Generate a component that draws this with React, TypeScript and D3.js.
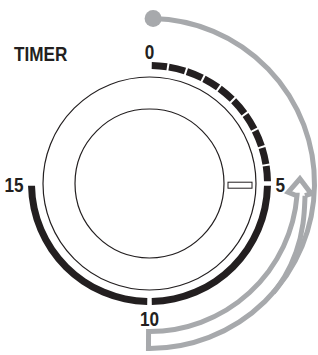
import * as d3 from 'd3';

const WIDTH = 318;
const HEIGHT = 355;

// Dial runs 0..20 minutes around the full turn, 0 at the top
const DIAL_MINUTES = [0, 20];
const TICK_MINUTES = [0, 5, 10, 15];
const TICK_LABELS = ['0', '5', '10', '15'];
// black scale band pieces, minutes
const BAND_STARTS = [0, 0.5, 1, 1.5, 2, 2.5, 3, 3.5, 4, 4.5, 5, 10];
const BAND_ENDS = [0.5, 1, 1.5, 2, 2.5, 3, 3.5, 4, 4.5, 5, 10, 15];
const TITLE = 'TIMER';
// grey turning guide (minutes): start dot, turn-around, arrow end, merge of the shaft
const GUIDE_START = 0.07;
const GUIDE_TURN = 10.02;
const GUIDE_ARROW_BASE = 5.2;
const GUIDE_ARROW_TIP = 4.9;
const GUIDE_SHAFT = [5.25, 5.8, 6.4, 6.95, 7.3];
const INDICATOR_MINUTE = 5;

const COLORS = {
  ink: '#231f20',
  guide: '#a7a9ac',
  paper: '#ffffff',
};

const cx = 149.5;
const cy = 183.5;
const R = {
  inner: 74.5,
  outer: 106.5,
  bandIn: 114.5,
  bandOut: 121.5,
  label: 126,
  guideOut: 165,
  guideIn: 148,
  shaftIn: 146,
  shaftOut: 156,
};

const angle = d3.scaleLinear().domain(DIAL_MINUTES).range([0, 2 * Math.PI]);
const polar = (m: number, r: number): [number, number] => [
  cx + r * Math.sin(angle(m)),
  cy - r * Math.cos(angle(m)),
];

const FONT = "'Liberation Sans', Arial, sans-serif";
const FONT_SIZE = 19.5;
const SQUEEZE = 0.88; // condensed lettering

export default function App() {
  const bandR = (R.bandIn + R.bandOut) / 2;
  const gapPx = (m: number) => (m % 5 === 0 ? 4.5 : 2);
  const arc = d3.arc<{ startAngle: number; endAngle: number }>()
    .innerRadius(R.bandIn)
    .outerRadius(R.bandOut);

  const bandPaths = BAND_STARTS.map((s, i) => {
    const e = BAND_ENDS[i];
    return arc({
      startAngle: angle(s) + gapPx(s) / 2 / bandR,
      endAngle: angle(e) - gapPx(e) / 2 / bandR,
    }) as string;
  });

  // grey guide: clockwise from the dot to past 10, then back to 5 with an arrow
  const p = d3.path();
  const toScreen = (m: number) => angle(m) - Math.PI / 2;
  const [dx, dy] = polar(GUIDE_START, R.guideOut);
  p.moveTo(dx, dy);
  p.arc(cx, cy, R.guideOut, toScreen(GUIDE_START), toScreen(GUIDE_TURN), false);
  const capIn = polar(GUIDE_TURN, R.guideIn);
  p.lineTo(capIn[0], capIn[1]);
  p.arc(cx, cy, R.guideIn, toScreen(GUIDE_TURN), toScreen(GUIDE_SHAFT[0]), true);
  const notchL = polar(GUIDE_SHAFT[0], R.shaftIn);
  const wingL = polar(GUIDE_ARROW_BASE, 139);
  const tip = polar(GUIDE_ARROW_TIP, 150.5);
  const wingR = polar(GUIDE_ARROW_BASE, 162);
  const notchR = polar(GUIDE_SHAFT[0], R.shaftOut);
  p.lineTo(notchL[0], notchL[1]);
  p.lineTo(wingL[0], wingL[1]);
  p.lineTo(tip[0], tip[1]);
  p.lineTo(wingR[0], wingR[1]);
  p.lineTo(notchR[0], notchR[1]);

  const shaftRadii = [R.shaftOut, 159.5, 163, R.guideOut, R.guideOut];
  const shaft = d3.lineRadial<number>()
    .angle((m) => angle(m))
    .radius((_, i) => shaftRadii[i])
    .curve(d3.curveBasis)(GUIDE_SHAFT) as string;

  const ind0 = polar(INDICATOR_MINUTE, 78.5);

  const label = (x: number, y: number, txt: string, anchor: string, key?: string | number) => (
    <text
      key={key}
      transform={`translate(${x},${y}) scale(${SQUEEZE},1)`}
      textAnchor={anchor}
      fontFamily={FONT}
      fontWeight={700}
      fontSize={FONT_SIZE}
      fill={COLORS.ink}
    >
      {txt}
    </text>
  );

  return (
    <svg
      width={WIDTH}
      height={HEIGHT}
      style={{ position: 'absolute', left: 0, top: 0, background: COLORS.paper }}
    >
      {label(14, 61, TITLE, 'start')}

      <circle cx={cx} cy={cy} r={R.outer} fill="none" stroke={COLORS.ink} strokeWidth={1.2} />
      <circle cx={cx} cy={cy} r={R.inner} fill="none" stroke={COLORS.ink} strokeWidth={1.2} />
      <rect
        x={ind0[0]}
        y={cy - 1.3}
        width={24}
        height={6}
        fill={COLORS.paper}
        stroke={COLORS.ink}
        strokeWidth={1}
      />

      <g transform={`translate(${cx},${cy})`}>
        {bandPaths.map((d, i) => (
          <path key={i} d={d} fill={COLORS.ink} />
        ))}
      </g>

      {TICK_MINUTES.map((m, i) => {
        const [x, y] = polar(m, R.label);
        const s = Math.sin(angle(m));
        const c = Math.cos(angle(m));
        const anchor = s > 0.5 ? 'start' : s < -0.5 ? 'end' : 'middle';
        const by = c > 0.5 ? y + 1 : c < -0.5 ? y + 16.5 : y + 8.5;
        return label(x, by, TICK_LABELS[i], anchor, m);
      })}

      <path
        d={p.toString()}
        fill="none"
        stroke={COLORS.guide}
        strokeWidth={5}
        strokeLinejoin="miter"
      />
      <path
        d={shaft}
        transform={`translate(${cx},${cy})`}
        fill="none"
        stroke={COLORS.guide}
        strokeWidth={5}
      />
      <circle cx={dx} cy={dy} r={8.5} fill={COLORS.guide} />
    </svg>
  );
}
